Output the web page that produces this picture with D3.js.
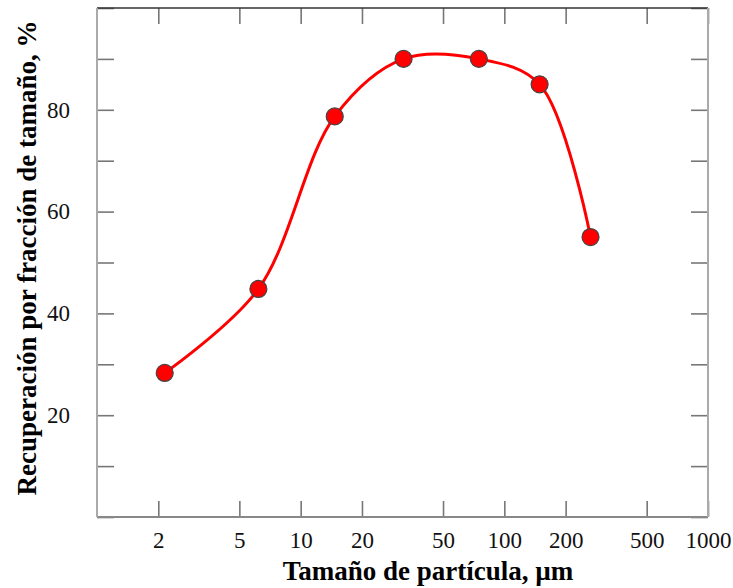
<!DOCTYPE html>
<html>
<head>
<meta charset="utf-8">
<script src="https://cdn.jsdelivr.net/npm/d3@7"></script>
<style>
  body { margin: 0; background: #fff; }
</style>
</head>
<body>
<script>
'use strict';

// particle size (µm) and recovery (%)
const sizes = [2.15, 6.2, 14.7, 32, 75, 149, 265];
const recovery = [28.3, 44.8, 78.7, 90, 90, 85, 55];

const xTicks = [2, 5, 10, 20, 50, 100, 200, 500, 1000];
const yTicks = [0, 10, 20, 30, 40, 50, 60, 70, 80, 90, 100];
const yLabels = [20, 40, 60, 80];

const xTitle = "Tamaño de partícula, µm";
const yTitle = "Recuperación por fracción de tamaño, %";

(function() {
  const width = 733, height = 588;
  const left = 97, right = 708, top = 8, bottom = 517;
  const serif = '"Liberation Serif", "Times New Roman", "DejaVu Serif", serif';

  let svg = d3.select('body').append('svg')
    .attr('width', width)
    .attr('height', height);

  let x = d3.scaleLog().domain([1, 1000]).range([left, right]);
  let y = d3.scaleLinear().domain([0, 100]).range([bottom, top]);

  // bottom axis with labels, inward ticks
  let gx = svg.append('g')
    .attr('transform', `translate(0,${bottom})`)
    .call(d3.axisBottom(x).tickValues(xTicks).tickSize(-16).tickPadding(15)
      .tickFormat(d3.format('d')));
  // top axis, ticks only
  let gxTop = svg.append('g')
    .attr('transform', `translate(0,${top})`)
    .call(d3.axisTop(x).tickValues(xTicks).tickSize(-16).tickFormat(''));

  // left axis with labels
  let gy = svg.append('g')
    .attr('transform', `translate(${left},0)`)
    .call(d3.axisLeft(y).tickValues(yTicks).tickSize(-17).tickPadding(27)
      .tickFormat((d) => yLabels.includes(d) ? d : ''));
  // right axis, ticks only
  let gyRight = svg.append('g')
    .attr('transform', `translate(${right},0)`)
    .call(d3.axisRight(y).tickValues(yTicks).tickSize(-17).tickFormat(''));

  [gx, gxTop, gy, gyRight].forEach((g) => {
    g.select('.domain').remove();
    g.attr('font-family', serif).attr('font-size', 23);
    g.selectAll('.tick line').attr('stroke', '#777').attr('stroke-width', 1.6);
    g.selectAll('.tick text').attr('fill', '#111');
  });

  // frame
  svg.append('line').attr('x1', left).attr('x2', right).attr('y1', top).attr('y2', top)
    .attr('stroke', '#333').attr('stroke-width', 1.5);
  svg.append('line').attr('x1', left).attr('x2', right).attr('y1', bottom).attr('y2', bottom)
    .attr('stroke', '#888').attr('stroke-width', 2);
  svg.append('line').attr('x1', left).attr('x2', left).attr('y1', top).attr('y2', bottom)
    .attr('stroke', '#aaa').attr('stroke-width', 2);
  svg.append('line').attr('x1', right).attr('x2', right).attr('y1', top).attr('y2', bottom)
    .attr('stroke', '#aaa').attr('stroke-width', 2);

  // smooth curve
  let pts = sizes.map((s, i) => [s, recovery[i]]);
  let line = d3.line()
    .x((d) => x(d[0]))
    .y((d) => y(d[1]))
    .curve(d3.curveCatmullRom.alpha(0.5));

  svg.append('path')
    .datum(pts)
    .attr('d', line)
    .attr('fill', 'none')
    .attr('stroke', '#ff0000')
    .attr('stroke-width', 3);

  svg.selectAll('.dot')
    .data(pts)
    .enter()
    .append('circle')
      .attr('cx', (d) => x(d[0]))
      .attr('cy', (d) => y(d[1]))
      .attr('r', 8.5)
      .attr('fill', '#ff0000')
      .attr('stroke', '#444')
      .attr('stroke-width', 1.2);

  // titles
  svg.append('text')
    .attr('x', 428)
    .attr('y', 580)
    .attr('text-anchor', 'middle')
    .attr('font-family', serif)
    .attr('font-size', 27)
    .attr('font-weight', 'bold')
    .text(xTitle);

  svg.append('text')
    .attr('transform', 'translate(36, 258)rotate(-90)')
    .attr('text-anchor', 'middle')
    .attr('font-family', serif)
    .attr('font-size', 27)
    .attr('font-weight', 'bold')
    .text(yTitle);
})();
</script>
</body>
</html>
